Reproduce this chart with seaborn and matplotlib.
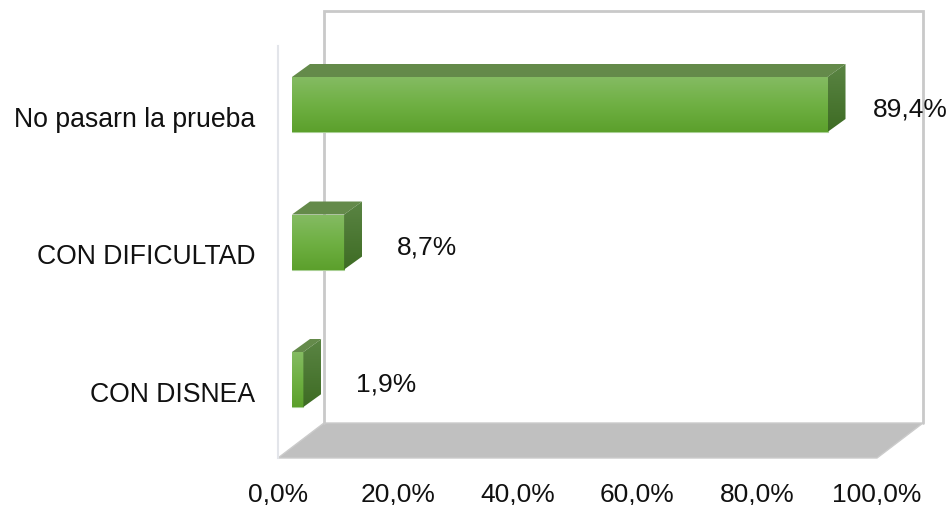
import matplotlib.pyplot as plt
import numpy as np
import seaborn as sns
from matplotlib.colors import LinearSegmentedColormap
from matplotlib.patches import Polygon
from matplotlib.transforms import ScaledTranslation

categories = ['No pasarn la prueba', 'CON DIFICULTAD', 'CON DISNEA']
values = [89.4, 8.7, 1.9]
value_labels = ['89,4%', '8,7%', '1,9%']
x_ticks = [0, 20, 40, 60, 80, 100]
x_tick_labels = ['0,0%', '20,0%', '40,0%', '60,0%', '80,0%', '100,0%']

W, H = 953, 505


def px_axes(fig, left, top, width, height):
    # axes placed by picture pixels, y counted from the top
    return fig.add_axes([left / W, 1 - (top + height) / H, width / W, height / H])


sns.set_style('white')
plt.rcParams['font.family'] = ['Liberation Sans', 'DejaVu Sans']
plt.rcParams['font.size'] = 19
text_color = '#111111'

fig = plt.figure(figsize=(W / 100, H / 100), dpi=100)

# Walls and floor, drawn on the front plane axes
frame = px_axes(fig, 278, 46, 599, 412)
frame.set_xlim(0, 100)
frame.set_ylim(0, 100)
for side in ['top', 'right', 'bottom']:
    frame.spines[side].set_visible(False)
frame.spines['left'].set_color('#E3E5EA')
frame.spines['left'].set_linewidth(1.5)
frame.set_yticks([])
frame.set_xticks(x_ticks)
frame.set_xticklabels(x_tick_labels, fontsize=19, color=text_color)
frame.tick_params(axis='x', length=0, pad=17.5)

depth_x = 46 / 599 * 100
depth_y = 35 / 412 * 100
frame.add_patch(Polygon([(0, 0), (100, 0), (100 + depth_x, depth_y), (depth_x, depth_y)],
                        closed=True, facecolor='#C0C0C0', edgecolor='#CBCBCB', lw=1, clip_on=False))
frame.plot([depth_x, depth_x, 100 + depth_x, 100 + depth_x],
           [depth_y, 100 + depth_y, 100 + depth_y, depth_y],
           color='#C9C9C9', lw=2, clip_on=False, solid_joinstyle='miter')

# Bars sit a little behind the front plane
ax = px_axes(fig, 292, 35.75, 599, 412.5)
ax.patch.set_alpha(0)
sns.barplot(x=values, y=categories, order=categories, orient='h', width=0.4, ax=ax,
            color='#6EB040', edgecolor='#A9CF94', linewidth=0.8, zorder=3)
ax.set_xlim(0, 100)
ax.set_ylim(2.5, -0.5)
ax.set_xlabel('')
ax.set_ylabel('')
ax.set_xticks([])
ax.tick_params(axis='y', length=0, pad=26.5, labelsize=19.2, labelcolor=text_color)
for side in ax.spines:
    ax.spines[side].set_visible(False)

# category labels hang about 12 px lower than the bars
shift = ScaledTranslation(0, -12 / 100, fig.dpi_scale_trans)
for tick_label in ax.get_yticklabels():
    tick_label.set_transform(tick_label.get_transform() + shift)

front_cmap = LinearSegmentedColormap.from_list('front', ['#84BB62', '#6FB043', '#5CA02C'])
side_cmap = LinearSegmentedColormap.from_list('side', ['#5A8443', '#3E6C24'])
grad = np.linspace(0, 1, 64).reshape(-1, 1)
dx = 18 / 5.99
dy = 13 / 137.5

for bar, label in zip(ax.patches, value_labels):
    x1 = bar.get_width()
    y0 = bar.get_y()
    y1 = y0 + bar.get_height()

    im = ax.imshow(grad, cmap=front_cmap, extent=(0, x1, y1, y0), aspect='auto', zorder=4)
    im.set_clip_path(bar)

    top = Polygon([(0, y0), (dx, y0 - dy), (x1 + dx, y0 - dy), (x1, y0)],
                  closed=True, facecolor='#648A4A', edgecolor='none', zorder=4, clip_on=False)
    ax.add_patch(top)

    side_poly = Polygon([(x1, y0), (x1 + dx, y0 - dy), (x1 + dx, y1 - dy), (x1, y1)],
                        closed=True, facecolor='none', edgecolor='none', zorder=4)
    ax.add_patch(side_poly)
    im2 = ax.imshow(grad, cmap=side_cmap, extent=(x1, x1 + dx, y1, y0 - dy), aspect='auto', zorder=4)
    im2.set_clip_path(side_poly)

    ax.annotate(label, xy=(x1, (y0 + y1) / 2), xytext=(83, -5), textcoords='offset pixels',
                ha='center', va='center', fontsize=19, color=text_color, zorder=6, annotation_clip=False)

ax.set_xlim(0, 100)
ax.set_ylim(2.5, -0.5)

fig.savefig('out.png', dpi=100)
